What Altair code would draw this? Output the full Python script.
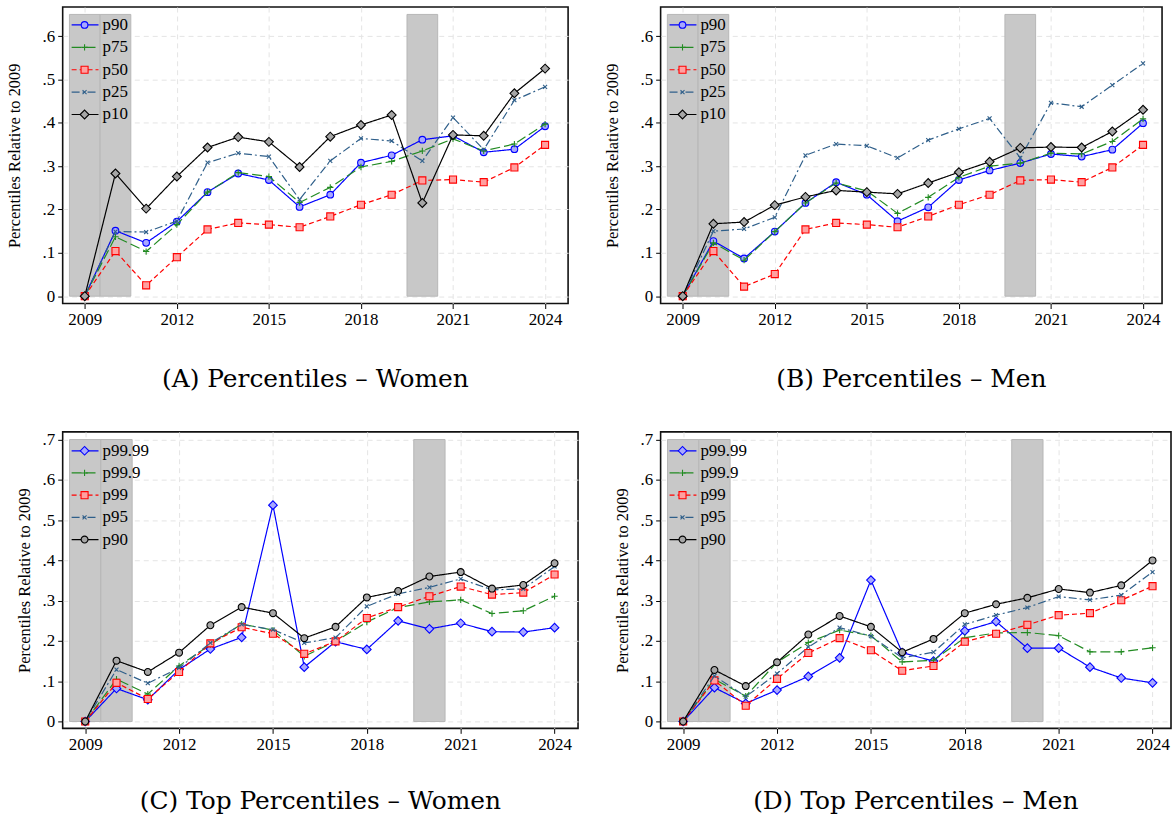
import altair as alt
import pandas as pd

years = list(range(2009, 2025))

names_ab = ["p90", "p75", "p50", "p25", "p10"]
names_cd = ["p99.99", "p99.9", "p99", "p95", "p90"]

# (A) Percentiles - Women
a_p90 = [0, .151, .123, .172, .240, .283, .268, .206, .234, .308, .325, .361, .370, .332, .339, .392]
a_p75 = [0, .137, .103, .165, .240, .285, .276, .216, .251, .298, .311, .335, .363, .335, .351, .397]
a_p50 = [0, .104, .025, .090, .154, .169, .165, .159, .184, .211, .234, .267, .269, .263, .297, .349]
a_p25 = [0, .149, .148, .173, .308, .330, .322, .223, .312, .364, .358, .312, .412, .338, .452, .483]
a_p10 = [0, .283, .202, .276, .343, .367, .356, .298, .368, .395, .418, .215, .372, .370, .468, .525]

# (B) Percentiles - Men
b_p90 = [0, .127, .087, .149, .215, .263, .234, .173, .205, .268, .290, .307, .328, .322, .338, .399]
b_p75 = [0, .123, .083, .149, .215, .261, .243, .191, .228, .274, .300, .307, .330, .328, .357, .409]
b_p50 = [0, .104, .022, .051, .154, .169, .165, .159, .184, .211, .234, .267, .269, .263, .297, .349]
b_p25 = [0, .150, .155, .182, .325, .351, .347, .319, .360, .386, .410, .319, .446, .437, .487, .537]
b_p10 = [0, .167, .171, .210, .229, .244, .240, .236, .261, .286, .310, .342, .344, .343, .380, .430]

# (C) Top Percentiles - Women
c_p9999 = [0, .082, .054, .129, .180, .209, .537, .135, .198, .179, .250, .230, .244, .223, .222, .233]
c_p999 = [0, .105, .068, .138, .191, .242, .227, .162, .199, .247, .283, .297, .302, .268, .275, .311]
c_p99 = [0, .096, .056, .123, .194, .234, .218, .168, .199, .257, .284, .311, .335, .315, .320, .365]
c_p95 = [0, .129, .095, .133, .195, .241, .228, .195, .208, .286, .317, .333, .354, .327, .329, .385]
c_p90 = [0, .151, .123, .171, .239, .284, .269, .207, .235, .308, .324, .360, .371, .330, .339, .393]

# (D) Top Percentiles - Men
d_p9999 = [0, .084, .045, .078, .112, .158, .351, .171, .150, .225, .248, .182, .182, .135, .108, .096]
d_p999 = [0, .105, .063, .147, .196, .227, .213, .148, .152, .208, .220, .221, .213, .173, .173, .183]
d_p99 = [0, .102, .039, .106, .170, .207, .177, .126, .138, .198, .218, .240, .264, .269, .301, .336]
d_p95 = [0, .113, .062, .119, .185, .233, .212, .158, .172, .241, .264, .283, .310, .302, .314, .371]
d_p90 = [0, .128, .088, .147, .216, .262, .235, .172, .205, .269, .291, .307, .329, .320, .338, .400]

# shaded periods
shade_start = [2008.5, 2009.5, 2019.5]
shade_end = [2009.5, 2010.5, 2020.5]

x_ticks = [2009, 2012, 2015, 2018, 2021, 2024]
y_ticks_ab = [0, .1, .2, .3, .4, .5, .6]
y_ticks_cd = [0, .1, .2, .3, .4, .5, .6, .7]

# styles
COLORS = ["#0000ff", "#228b22", "#ff0000", "#2f5f8a", "#000000"]
DASHES = [[1, 0], [10, 4], [5, 3], [8, 3, 2, 3], [1, 0]]
PLUS = "M-1,0L1,0M0,-1L0,1"
XMARK = "M-1,-1L1,1M-1,1L1,-1"
FILLS = ["#a8a8ff", "transparent", "#ffa0a0", "transparent", "#a6a6a6"]
SHAPES_AB = ["circle", PLUS, "square", XMARK, "diamond"]
SIZES_AB = [45, 40, 50, 16, 80]
SHAPES_CD = ["diamond", PLUS, "square", XMARK, "circle"]
SIZES_CD = [75, 40, 50, 16, 48]

TICK_FONT = "'Liberation Serif', 'Times New Roman', Times, serif"
TITLE_FONT = "'DejaVu Serif', serif"


def panel(series, names, shapes, sizes, ytop, shade_top, yticks, width, xmax,
          title, title_pad, lg_y0, lg_step, title_offset):
    xs = alt.Scale(domain=[2008.28, xmax], nice=False, zero=False)
    ys = alt.Scale(domain=[-0.017, ytop], nice=False, zero=False)
    xaxis = alt.Axis(values=x_ticks, format="d", title="", grid=True,
                     gridDash=[5, 4], gridColor="#e4e4e4", tickSize=5,
                     labelPadding=3)
    yaxis = alt.Axis(values=yticks, title="Percentiles Relative to 2009",
                     labelExpr="datum.value == 0 ? '0' : replace(format(datum.value, '.1f'), '0.', '.')",
                     grid=True, gridDash=[5, 4], gridColor="#e4e4e4",
                     tickSize=5, labelPadding=3, titlePadding=title_pad)

    shade_df = pd.DataFrame({"start": shade_start, "end": shade_end})
    shade_df["bottom"] = 0.0
    shade_df["top"] = shade_top
    layers = [
        alt.Chart(shade_df).mark_rect(fill="#c8c8c8", stroke="#b6b6b6", strokeWidth=1).encode(
            x=alt.X("start:Q", scale=xs, axis=xaxis),
            x2="end:Q",
            y=alt.Y("bottom:Q", scale=ys, axis=yaxis),
            y2="top:Q",
        )
    ]
    for i, n in enumerate(names):
        df = pd.DataFrame({"year": years, "value": series[i]})
        base = alt.Chart(df).encode(
            x=alt.X("year:Q", scale=xs, axis=xaxis),
            y=alt.Y("value:Q", scale=ys, axis=yaxis),
        )
        layers.append(base.mark_line(color=COLORS[i], strokeDash=DASHES[i], strokeWidth=1.2))
        layers.append(base.mark_point(shape=shapes[i], size=sizes[i], fill=FILLS[i],
                                      stroke=COLORS[i], strokeWidth=1.1, opacity=1, filled=True))
    for i, n in enumerate(names):
        ly = lg_y0 + lg_step * i
        one = pd.DataFrame({"label": [n]})
        lc = alt.Chart(one)
        layers.append(lc.mark_rule(color=COLORS[i], strokeDash=DASHES[i], strokeWidth=1.2).encode(
            x=alt.value(9), x2=alt.value(36), y=alt.value(ly)))
        layers.append(lc.mark_point(shape=shapes[i], size=sizes[i], fill=FILLS[i],
                                    stroke=COLORS[i], strokeWidth=1.1, opacity=1, filled=True).encode(
            x=alt.value(22), y=alt.value(ly)))
        layers.append(lc.mark_text(align="left", baseline="middle", font=TICK_FONT, fontSize=17,
                                   color="black").encode(
            x=alt.value(40), y=alt.value(ly), text="label:N"))
    return alt.layer(*layers).properties(
        width=width, height=298,
        title=alt.TitleParams(title, orient="bottom", anchor="middle", font=TITLE_FONT,
                              fontSize=25, fontWeight="normal", color="black",
                              offset=title_offset),
    )


pa = panel([a_p90, a_p75, a_p50, a_p25, a_p10], names_ab, SHAPES_AB, SIZES_AB, 0.667, 0.65,
           y_ticks_ab, 508, 2024.75, "(A) Percentiles \u2013 Women", 20, 18, 22.5, 40)
pb = panel([b_p90, b_p75, b_p50, b_p25, b_p10], names_ab, SHAPES_AB, SIZES_AB, 0.667, 0.65,
           y_ticks_ab, 504, 2024.62, "(B) Percentiles \u2013 Men", 20, 18, 22.5, 40)
pc = panel([c_p9999, c_p999, c_p99, c_p95, c_p90], names_cd, SHAPES_CD, SIZES_CD, 0.719, 0.70,
           y_ticks_cd, 518, 2024.75, "(C) Top Percentiles \u2013 Women", 10, 19, 22.3, 37)
pd_ = panel([d_p9999, d_p999, d_p99, d_p95, d_p90], names_cd, SHAPES_CD, SIZES_CD, 0.719, 0.70,
            y_ticks_cd, 513, 2024.59, "(D) Top Percentiles \u2013 Men", 10, 19, 22.3, 37)

chart = alt.vconcat(
    alt.hconcat(pa, pb, spacing=34),
    alt.hconcat(pc, pd_, spacing=34),
    spacing=36,
).properties(
    padding={"left": 5, "top": 4, "right": 0, "bottom": 0},
    background="white",
).configure_view(
    stroke="#111111", strokeWidth=1.6,
).configure_axis(
    labelFont=TICK_FONT, labelFontSize=17, labelColor="black",
    titleFont=TICK_FONT, titleFontSize=16.5, titleFontWeight="normal", titleColor="black",
    tickColor="black", domain=False,
)

chart.save("out.html", embed_options={"renderer": "svg", "actions": False})
